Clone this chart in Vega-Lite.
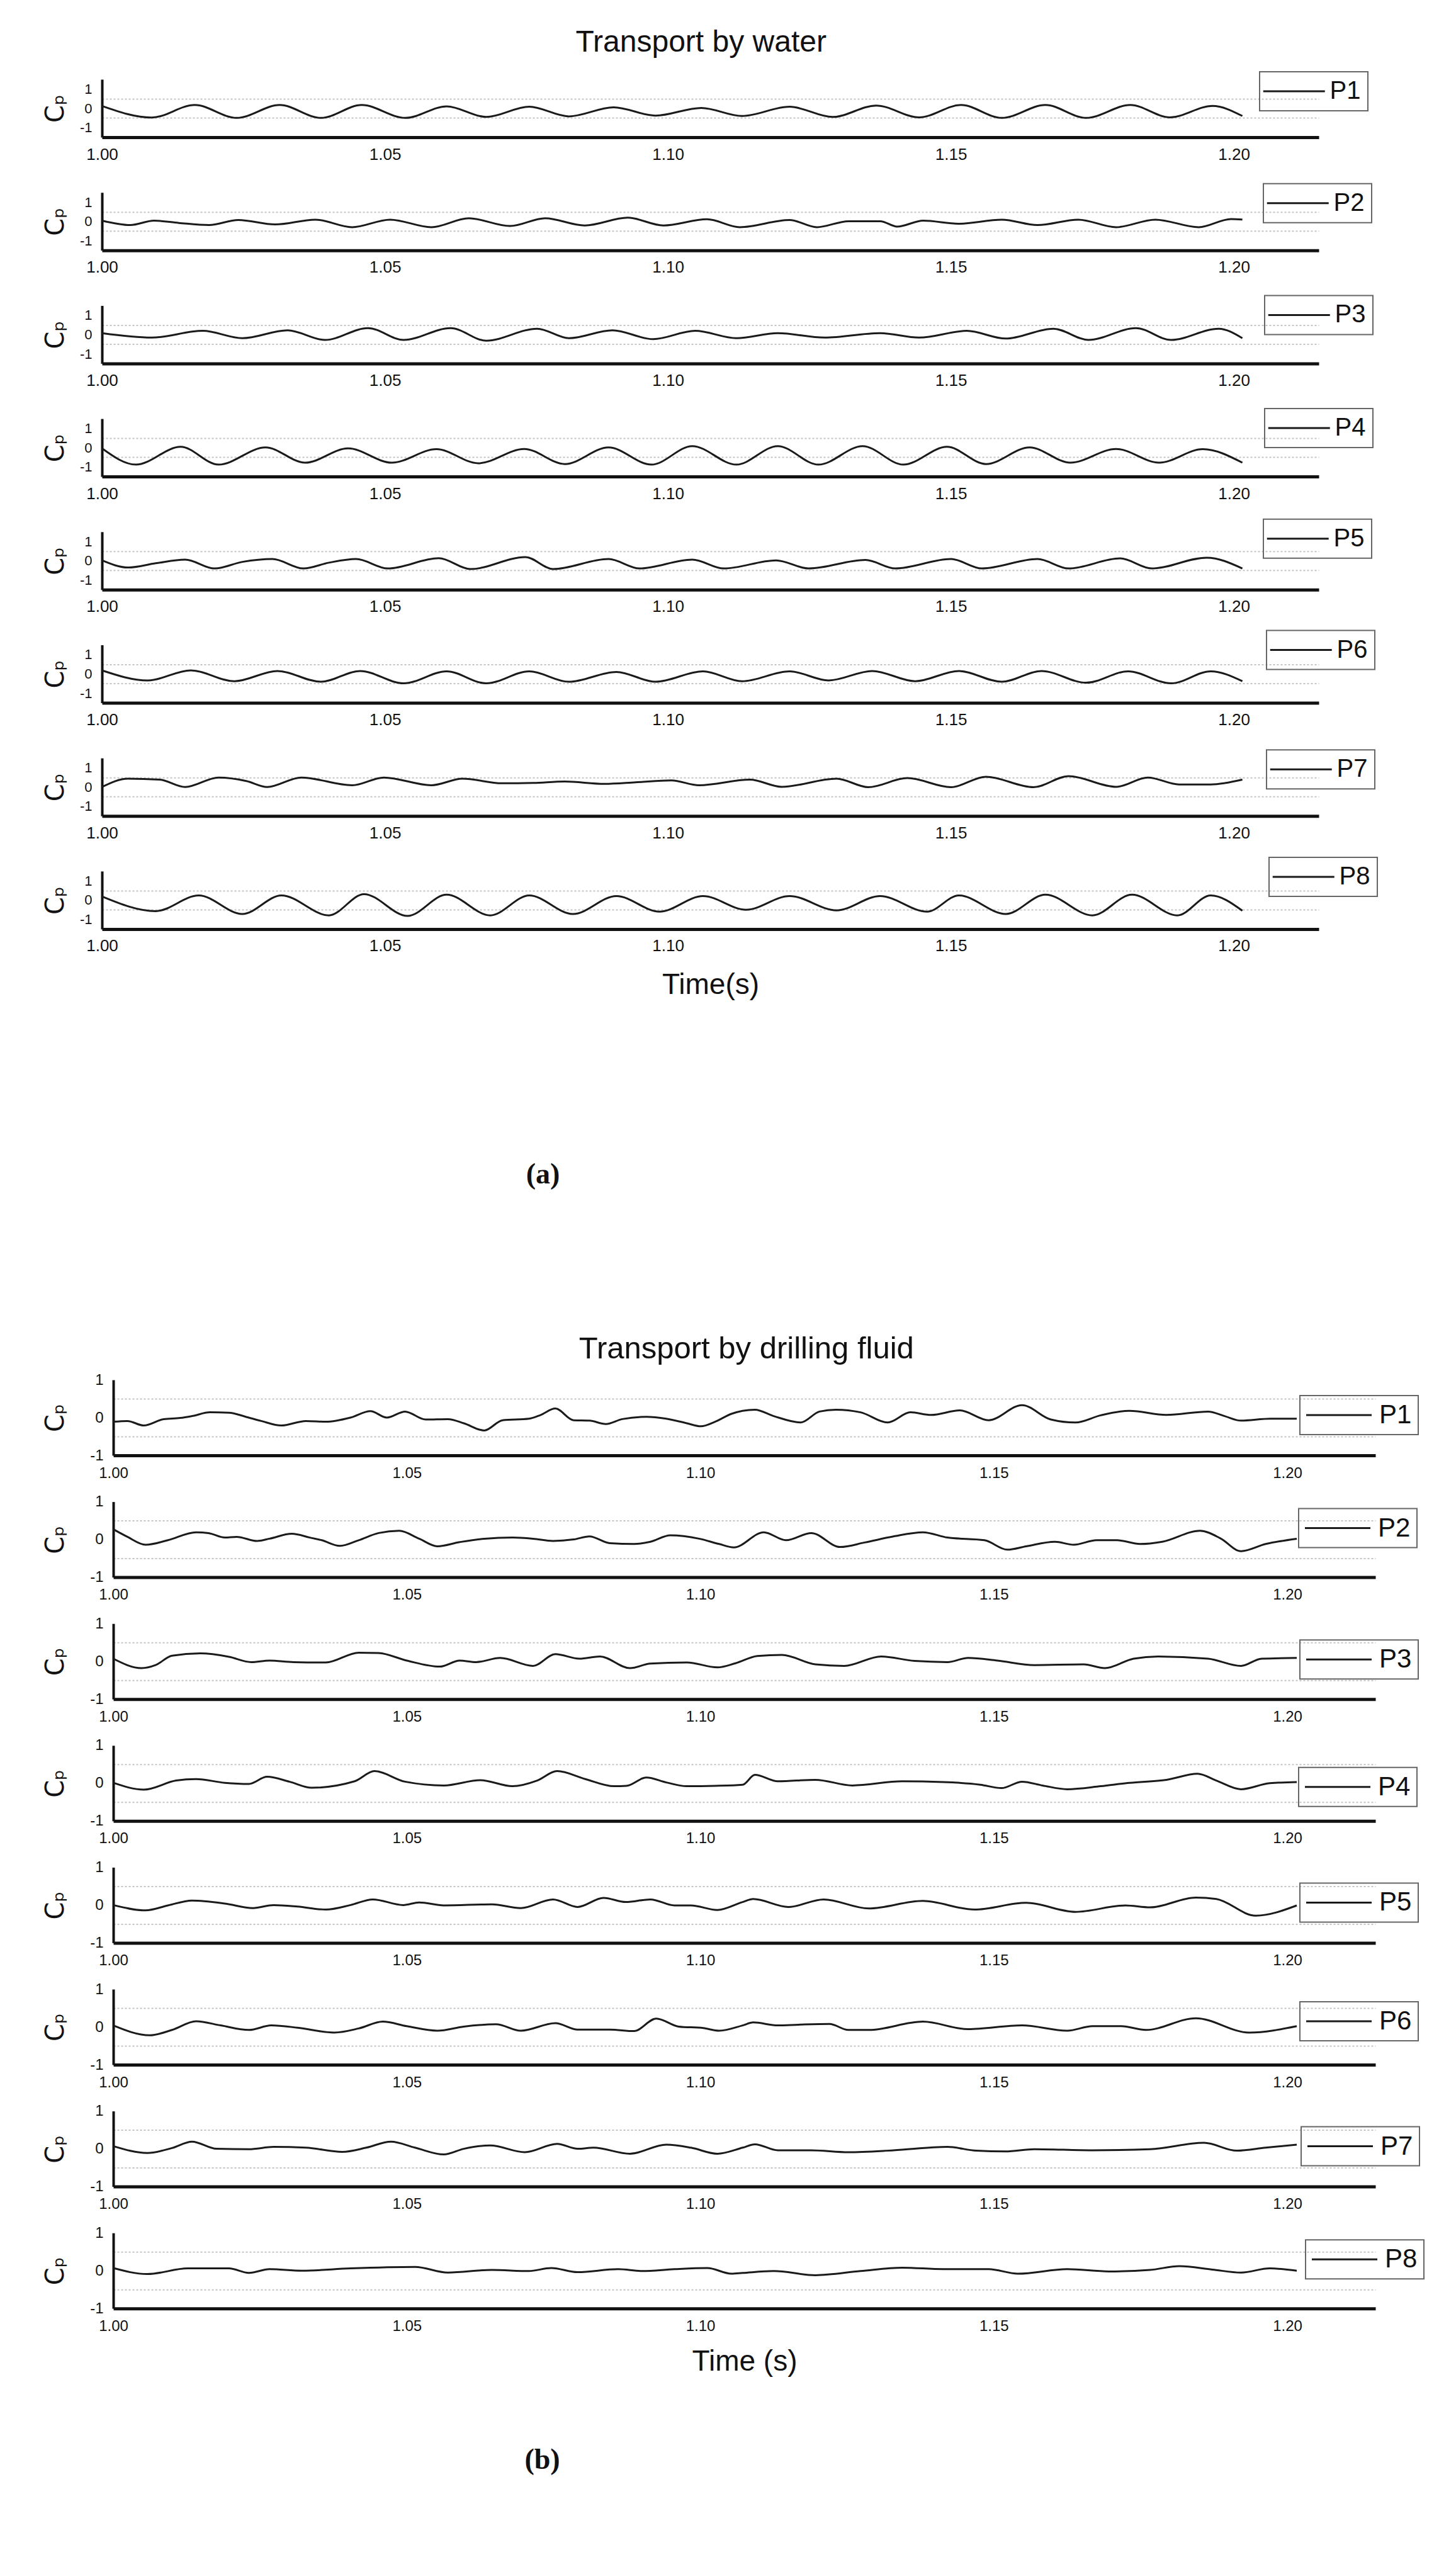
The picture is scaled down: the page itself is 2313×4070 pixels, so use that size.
{
"$schema":"https://vega.github.io/schema/vega-lite/v6.json",
"background":"white",
"padding":{"left":67,"top":44,"right":53,"bottom":120},
"config":{"view":{"stroke":null},"font":"Liberation Sans",
"axis":{"ticks":false,"tickSize":0,"grid":false,"domainColor":"#111","labelColor":"#111","titleColor":"#111","labelFont":"Liberation Sans","titleFont":"Liberation Sans","titleFontWeight":"normal"},
"legend":{"title":null,"symbolType":"M-1,0H7","symbolStrokeWidth":3,"strokeColor":"#666","strokeWidth":2,"labelFont":"Liberation Sans","labelColor":"#111"},
"title":{"font":"Liberation Sans","fontWeight":"normal","color":"#111","anchor":"middle"}},
"datasets":{
"a":[
{"p":"P1","t":1.0,"v":0.12},{"p":"P1","t":1.0088,"v":-0.48},{"p":"P1","t":1.0164,"v":0.17},{"p":"P1","t":1.0238,"v":-0.5},{"p":"P1","t":1.0314,"v":0.17},{"p":"P1","t":1.0387,"v":-0.5},{"p":"P1","t":1.0459,"v":0.17},{"p":"P1","t":1.0536,"v":-0.5},{"p":"P1","t":1.0609,"v":0.1},{"p":"P1","t":1.0679,"v":-0.45},{"p":"P1","t":1.0755,"v":0.08},{"p":"P1","t":1.0825,"v":-0.42},{"p":"P1","t":1.0904,"v":0.05},{"p":"P1","t":1.0978,"v":-0.38},{"p":"P1","t":1.1059,"v":0.02},{"p":"P1","t":1.1131,"v":-0.4},{"p":"P1","t":1.1215,"v":0.08},{"p":"P1","t":1.1291,"v":-0.45},{"p":"P1","t":1.1368,"v":0.14},{"p":"P1","t":1.1444,"v":-0.47},{"p":"P1","t":1.1518,"v":0.17},{"p":"P1","t":1.159,"v":-0.5},{"p":"P1","t":1.1667,"v":0.17},{"p":"P1","t":1.1739,"v":-0.5},{"p":"P1","t":1.1817,"v":0.17},{"p":"P1","t":1.1887,"v":-0.47},{"p":"P1","t":1.1962,"v":0.12},{"p":"P1","t":1.2015,"v":-0.4},
{"p":"P2","t":1.0,"v":0.04},{"p":"P2","t":1.005,"v":-0.19},{"p":"P2","t":1.0092,"v":0.04},{"p":"P2","t":1.0136,"v":-0.08},{"p":"P2","t":1.0189,"v":-0.19},{"p":"P2","t":1.0241,"v":0.07},{"p":"P2","t":1.0306,"v":-0.16},{"p":"P2","t":1.0377,"v":0.09},{"p":"P2","t":1.0442,"v":-0.3},{"p":"P2","t":1.0509,"v":0.09},{"p":"P2","t":1.0582,"v":-0.3},{"p":"P2","t":1.0648,"v":0.16},{"p":"P2","t":1.0721,"v":-0.24},{"p":"P2","t":1.0783,"v":0.16},{"p":"P2","t":1.0853,"v":-0.21},{"p":"P2","t":1.0929,"v":0.19},{"p":"P2","t":1.0992,"v":-0.21},{"p":"P2","t":1.1069,"v":0.11},{"p":"P2","t":1.1127,"v":-0.3},{"p":"P2","t":1.1215,"v":0.07},{"p":"P2","t":1.1263,"v":-0.3},{"p":"P2","t":1.1319,"v":0.01},{"p":"P2","t":1.1375,"v":0.01},{"p":"P2","t":1.1405,"v":-0.27},{"p":"P2","t":1.1451,"v":0.04},{"p":"P2","t":1.1514,"v":-0.12},{"p":"P2","t":1.159,"v":0.09},{"p":"P2","t":1.1653,"v":-0.19},{"p":"P2","t":1.1725,"v":0.09},{"p":"P2","t":1.1792,"v":-0.3},{"p":"P2","t":1.1861,"v":0.09},{"p":"P2","t":1.1938,"v":-0.3},{"p":"P2","t":1.1995,"v":0.12},{"p":"P2","t":1.2015,"v":0.1},
{"p":"P3","t":1.0,"v":0.07},{"p":"P3","t":1.0088,"v":-0.16},{"p":"P3","t":1.0178,"v":0.19},{"p":"P3","t":1.0248,"v":-0.19},{"p":"P3","t":1.0328,"v":0.22},{"p":"P3","t":1.0394,"v":-0.28},{"p":"P3","t":1.047,"v":0.33},{"p":"P3","t":1.0533,"v":-0.28},{"p":"P3","t":1.0616,"v":0.33},{"p":"P3","t":1.0679,"v":-0.32},{"p":"P3","t":1.0769,"v":0.3},{"p":"P3","t":1.0825,"v":-0.19},{"p":"P3","t":1.0902,"v":0.22},{"p":"P3","t":1.0974,"v":-0.24},{"p":"P3","t":1.1048,"v":0.19},{"p":"P3","t":1.1121,"v":-0.19},{"p":"P3","t":1.1194,"v":0.07},{"p":"P3","t":1.1277,"v":-0.16},{"p":"P3","t":1.1375,"v":0.07},{"p":"P3","t":1.1444,"v":-0.16},{"p":"P3","t":1.1528,"v":0.19},{"p":"P3","t":1.1597,"v":-0.21},{"p":"P3","t":1.1681,"v":0.3},{"p":"P3","t":1.1743,"v":-0.28},{"p":"P3","t":1.1827,"v":0.33},{"p":"P3","t":1.1889,"v":-0.28},{"p":"P3","t":1.1973,"v":0.3},{"p":"P3","t":1.2015,"v":-0.19},
{"p":"P4","t":1.0,"v":-0.04},{"p":"P4","t":1.006,"v":-0.88},{"p":"P4","t":1.0139,"v":0.04},{"p":"P4","t":1.0206,"v":-0.88},{"p":"P4","t":1.0289,"v":0.01},{"p":"P4","t":1.0359,"v":-0.78},{"p":"P4","t":1.0435,"v":-0.04},{"p":"P4","t":1.0512,"v":-0.78},{"p":"P4","t":1.0591,"v":-0.08},{"p":"P4","t":1.0665,"v":-0.81},{"p":"P4","t":1.0746,"v":-0.07},{"p":"P4","t":1.0818,"v":-0.85},{"p":"P4","t":1.0895,"v":0.01},{"p":"P4","t":1.0971,"v":-0.88},{"p":"P4","t":1.1043,"v":0.08},{"p":"P4","t":1.1121,"v":-0.88},{"p":"P4","t":1.1194,"v":0.08},{"p":"P4","t":1.1266,"v":-0.88},{"p":"P4","t":1.1344,"v":0.08},{"p":"P4","t":1.1416,"v":-0.88},{"p":"P4","t":1.1493,"v":0.04},{"p":"P4","t":1.1562,"v":-0.85},{"p":"P4","t":1.1639,"v":0.01},{"p":"P4","t":1.1711,"v":-0.78},{"p":"P4","t":1.1792,"v":-0.07},{"p":"P4","t":1.1868,"v":-0.78},{"p":"P4","t":1.1945,"v":-0.08},{"p":"P4","t":1.2015,"v":-0.78},
{"p":"P5","t":1.0,"v":0.02},{"p":"P5","t":1.0046,"v":-0.35},{"p":"P5","t":1.0095,"v":-0.13},{"p":"P5","t":1.0147,"v":0.06},{"p":"P5","t":1.0199,"v":-0.4},{"p":"P5","t":1.0248,"v":-0.06},{"p":"P5","t":1.0301,"v":0.09},{"p":"P5","t":1.0356,"v":-0.4},{"p":"P5","t":1.0401,"v":-0.1},{"p":"P5","t":1.0449,"v":0.09},{"p":"P5","t":1.0505,"v":-0.4},{"p":"P5","t":1.0595,"v":0.13},{"p":"P5","t":1.0651,"v":-0.43},{"p":"P5","t":1.0748,"v":0.19},{"p":"P5","t":1.0797,"v":-0.43},{"p":"P5","t":1.0895,"v":0.09},{"p":"P5","t":1.095,"v":-0.4},{"p":"P5","t":1.1043,"v":0.06},{"p":"P5","t":1.1099,"v":-0.4},{"p":"P5","t":1.1191,"v":0.02},{"p":"P5","t":1.1249,"v":-0.4},{"p":"P5","t":1.1349,"v":0.04},{"p":"P5","t":1.1402,"v":-0.4},{"p":"P5","t":1.15,"v":0.09},{"p":"P5","t":1.1555,"v":-0.4},{"p":"P5","t":1.1653,"v":0.09},{"p":"P5","t":1.1708,"v":-0.4},{"p":"P5","t":1.1799,"v":0.12},{"p":"P5","t":1.1855,"v":-0.4},{"p":"P5","t":1.1952,"v":0.16},{"p":"P5","t":1.2015,"v":-0.4},
{"p":"P6","t":1.0,"v":0.18},{"p":"P6","t":1.0081,"v":-0.34},{"p":"P6","t":1.0157,"v":0.18},{"p":"P6","t":1.0234,"v":-0.38},{"p":"P6","t":1.031,"v":0.15},{"p":"P6","t":1.0387,"v":-0.41},{"p":"P6","t":1.0456,"v":0.15},{"p":"P6","t":1.0533,"v":-0.49},{"p":"P6","t":1.0609,"v":0.13},{"p":"P6","t":1.0679,"v":-0.49},{"p":"P6","t":1.0755,"v":0.13},{"p":"P6","t":1.0825,"v":-0.41},{"p":"P6","t":1.0909,"v":0.1},{"p":"P6","t":1.0978,"v":-0.41},{"p":"P6","t":1.1062,"v":0.13},{"p":"P6","t":1.1131,"v":-0.38},{"p":"P6","t":1.1215,"v":0.13},{"p":"P6","t":1.1284,"v":-0.34},{"p":"P6","t":1.1361,"v":0.15},{"p":"P6","t":1.1437,"v":-0.38},{"p":"P6","t":1.1514,"v":0.15},{"p":"P6","t":1.159,"v":-0.41},{"p":"P6","t":1.166,"v":0.15},{"p":"P6","t":1.1739,"v":-0.46},{"p":"P6","t":1.1813,"v":0.13},{"p":"P6","t":1.1889,"v":-0.49},{"p":"P6","t":1.1959,"v":0.13},{"p":"P6","t":1.2015,"v":-0.38},
{"p":"P7","t":1.0,"v":0.0},{"p":"P7","t":1.0046,"v":0.43},{"p":"P7","t":1.0102,"v":0.38},{"p":"P7","t":1.0147,"v":0.0},{"p":"P7","t":1.0206,"v":0.49},{"p":"P7","t":1.0255,"v":0.31},{"p":"P7","t":1.0292,"v":0.0},{"p":"P7","t":1.0352,"v":0.49},{"p":"P7","t":1.0442,"v":0.09},{"p":"P7","t":1.0498,"v":0.49},{"p":"P7","t":1.0582,"v":0.09},{"p":"P7","t":1.0637,"v":0.43},{"p":"P7","t":1.0707,"v":0.19},{"p":"P7","t":1.0762,"v":0.21},{"p":"P7","t":1.0818,"v":0.28},{"p":"P7","t":1.0888,"v":0.16},{"p":"P7","t":1.0943,"v":0.24},{"p":"P7","t":1.1006,"v":0.34},{"p":"P7","t":1.1055,"v":0.09},{"p":"P7","t":1.1145,"v":0.38},{"p":"P7","t":1.1201,"v":0.01},{"p":"P7","t":1.1298,"v":0.43},{"p":"P7","t":1.1354,"v":-0.01},{"p":"P7","t":1.1423,"v":0.46},{"p":"P7","t":1.15,"v":-0.01},{"p":"P7","t":1.1562,"v":0.53},{"p":"P7","t":1.1646,"v":-0.01},{"p":"P7","t":1.1708,"v":0.56},{"p":"P7","t":1.1792,"v":0.01},{"p":"P7","t":1.1848,"v":0.49},{"p":"P7","t":1.1903,"v":0.13},{"p":"P7","t":1.1959,"v":0.13},{"p":"P7","t":1.2015,"v":0.38},
{"p":"P8","t":1.0,"v":0.19},{"p":"P8","t":1.0095,"v":-0.57},{"p":"P8","t":1.0171,"v":0.24},{"p":"P8","t":1.0248,"v":-0.72},{"p":"P8","t":1.0317,"v":0.24},{"p":"P8","t":1.0401,"v":-0.79},{"p":"P8","t":1.0463,"v":0.31},{"p":"P8","t":1.054,"v":-0.82},{"p":"P8","t":1.0609,"v":0.28},{"p":"P8","t":1.0686,"v":-0.79},{"p":"P8","t":1.0755,"v":0.24},{"p":"P8","t":1.0832,"v":-0.72},{"p":"P8","t":1.0909,"v":0.21},{"p":"P8","t":1.0985,"v":-0.6},{"p":"P8","t":1.1062,"v":0.21},{"p":"P8","t":1.1138,"v":-0.5},{"p":"P8","t":1.1215,"v":0.21},{"p":"P8","t":1.1298,"v":-0.53},{"p":"P8","t":1.1375,"v":0.21},{"p":"P8","t":1.1458,"v":-0.6},{"p":"P8","t":1.1514,"v":0.24},{"p":"P8","t":1.1597,"v":-0.72},{"p":"P8","t":1.1667,"v":0.28},{"p":"P8","t":1.175,"v":-0.79},{"p":"P8","t":1.182,"v":0.28},{"p":"P8","t":1.19,"v":-0.79},{"p":"P8","t":1.1959,"v":0.24},{"p":"P8","t":1.2015,"v":-0.55}
],
"b":[
{"p":"P1","t":1.0,"v":-0.11},{"p":"P1","t":1.0024,"v":-0.09},{"p":"P1","t":1.0052,"v":-0.21},{"p":"P1","t":1.0086,"v":-0.04},{"p":"P1","t":1.0114,"v":-0.01},{"p":"P1","t":1.0134,"v":0.04},{"p":"P1","t":1.0165,"v":0.14},{"p":"P1","t":1.0197,"v":0.13},{"p":"P1","t":1.0224,"v":0.03},{"p":"P1","t":1.0252,"v":-0.09},{"p":"P1","t":1.0286,"v":-0.21},{"p":"P1","t":1.0328,"v":-0.09},{"p":"P1","t":1.0362,"v":-0.11},{"p":"P1","t":1.0404,"v":0.0},{"p":"P1","t":1.0438,"v":0.17},{"p":"P1","t":1.0466,"v":0.0},{"p":"P1","t":1.0497,"v":0.16},{"p":"P1","t":1.0532,"v":-0.05},{"p":"P1","t":1.057,"v":-0.04},{"p":"P1","t":1.0597,"v":-0.15},{"p":"P1","t":1.0632,"v":-0.34},{"p":"P1","t":1.0663,"v":-0.07},{"p":"P1","t":1.0708,"v":-0.03},{"p":"P1","t":1.0728,"v":0.07},{"p":"P1","t":1.0753,"v":0.24},{"p":"P1","t":1.0784,"v":-0.07},{"p":"P1","t":1.0811,"v":-0.08},{"p":"P1","t":1.0839,"v":-0.17},{"p":"P1","t":1.0867,"v":-0.04},{"p":"P1","t":1.0908,"v":0.02},{"p":"P1","t":1.0942,"v":-0.03},{"p":"P1","t":1.0977,"v":-0.15},{"p":"P1","t":1.1001,"v":-0.23},{"p":"P1","t":1.1025,"v":-0.11},{"p":"P1","t":1.1053,"v":0.1},{"p":"P1","t":1.1072,"v":0.18},{"p":"P1","t":1.1093,"v":0.21},{"p":"P1","t":1.1125,"v":0.04},{"p":"P1","t":1.1171,"v":-0.13},{"p":"P1","t":1.1203,"v":0.16},{"p":"P1","t":1.1231,"v":0.21},{"p":"P1","t":1.1273,"v":0.14},{"p":"P1","t":1.1319,"v":-0.13},{"p":"P1","t":1.1358,"v":0.14},{"p":"P1","t":1.1393,"v":0.07},{"p":"P1","t":1.1442,"v":0.19},{"p":"P1","t":1.1491,"v":-0.07},{"p":"P1","t":1.1548,"v":0.33},{"p":"P1","t":1.1597,"v":-0.05},{"p":"P1","t":1.1639,"v":-0.13},{"p":"P1","t":1.1682,"v":0.06},{"p":"P1","t":1.1731,"v":0.18},{"p":"P1","t":1.1794,"v":0.07},{"p":"P1","t":1.1865,"v":0.16},{"p":"P1","t":1.1893,"v":0.04},{"p":"P1","t":1.1921,"v":-0.08},{"p":"P1","t":1.1971,"v":-0.03},{"p":"P1","t":1.2016,"v":-0.03},
{"p":"P2","t":1.0,"v":0.27},{"p":"P2","t":1.0024,"v":0.07},{"p":"P2","t":1.0055,"v":-0.14},{"p":"P2","t":1.0093,"v":-0.02},{"p":"P2","t":1.0141,"v":0.19},{"p":"P2","t":1.0162,"v":0.17},{"p":"P2","t":1.019,"v":0.05},{"p":"P2","t":1.021,"v":0.07},{"p":"P2","t":1.0245,"v":-0.04},{"p":"P2","t":1.0266,"v":0.02},{"p":"P2","t":1.0304,"v":0.15},{"p":"P2","t":1.0335,"v":0.05},{"p":"P2","t":1.0355,"v":-0.02},{"p":"P2","t":1.0386,"v":-0.17},{"p":"P2","t":1.0418,"v":-0.02},{"p":"P2","t":1.0452,"v":0.17},{"p":"P2","t":1.0487,"v":0.23},{"p":"P2","t":1.0521,"v":0.02},{"p":"P2","t":1.0552,"v":-0.18},{"p":"P2","t":1.059,"v":-0.07},{"p":"P2","t":1.0632,"v":0.02},{"p":"P2","t":1.068,"v":0.05},{"p":"P2","t":1.0715,"v":0.02},{"p":"P2","t":1.0749,"v":-0.04},{"p":"P2","t":1.0784,"v":0.0},{"p":"P2","t":1.0811,"v":0.08},{"p":"P2","t":1.0846,"v":-0.1},{"p":"P2","t":1.0887,"v":-0.12},{"p":"P2","t":1.0915,"v":-0.06},{"p":"P2","t":1.0949,"v":0.11},{"p":"P2","t":1.0998,"v":0.02},{"p":"P2","t":1.1032,"v":-0.12},{"p":"P2","t":1.1057,"v":-0.21},{"p":"P2","t":1.1108,"v":0.19},{"p":"P2","t":1.1146,"v":-0.02},{"p":"P2","t":1.1189,"v":0.17},{"p":"P2","t":1.1238,"v":-0.2},{"p":"P2","t":1.128,"v":-0.08},{"p":"P2","t":1.1329,"v":0.08},{"p":"P2","t":1.1379,"v":0.19},{"p":"P2","t":1.1421,"v":0.05},{"p":"P2","t":1.1484,"v":-0.02},{"p":"P2","t":1.1523,"v":-0.27},{"p":"P2","t":1.1555,"v":-0.18},{"p":"P2","t":1.1604,"v":-0.06},{"p":"P2","t":1.1636,"v":-0.14},{"p":"P2","t":1.1675,"v":-0.02},{"p":"P2","t":1.171,"v":-0.02},{"p":"P2","t":1.1749,"v":-0.12},{"p":"P2","t":1.1787,"v":-0.06},{"p":"P2","t":1.1851,"v":0.23},{"p":"P2","t":1.1886,"v":0.03},{"p":"P2","t":1.1921,"v":-0.31},{"p":"P2","t":1.1963,"v":-0.12},{"p":"P2","t":1.2016,"v":0.02},
{"p":"P3","t":1.0,"v":0.07},{"p":"P3","t":1.0048,"v":-0.18},{"p":"P3","t":1.0072,"v":-0.1},{"p":"P3","t":1.01,"v":0.15},{"p":"P3","t":1.0148,"v":0.21},{"p":"P3","t":1.0197,"v":0.12},{"p":"P3","t":1.0235,"v":-0.02},{"p":"P3","t":1.0266,"v":0.02},{"p":"P3","t":1.0307,"v":-0.02},{"p":"P3","t":1.0362,"v":-0.03},{"p":"P3","t":1.0418,"v":0.23},{"p":"P3","t":1.0452,"v":0.22},{"p":"P3","t":1.05,"v":0.02},{"p":"P3","t":1.0556,"v":-0.14},{"p":"P3","t":1.059,"v":0.02},{"p":"P3","t":1.0618,"v":-0.02},{"p":"P3","t":1.0659,"v":0.09},{"p":"P3","t":1.0715,"v":-0.12},{"p":"P3","t":1.0753,"v":0.19},{"p":"P3","t":1.0794,"v":0.07},{"p":"P3","t":1.0829,"v":0.13},{"p":"P3","t":1.088,"v":-0.18},{"p":"P3","t":1.0915,"v":-0.06},{"p":"P3","t":1.0977,"v":-0.03},{"p":"P3","t":1.1029,"v":-0.16},{"p":"P3","t":1.106,"v":-0.05},{"p":"P3","t":1.1097,"v":0.14},{"p":"P3","t":1.1139,"v":0.17},{"p":"P3","t":1.1196,"v":-0.08},{"p":"P3","t":1.1245,"v":-0.12},{"p":"P3","t":1.1308,"v":0.13},{"p":"P3","t":1.1365,"v":0.01},{"p":"P3","t":1.1421,"v":-0.02},{"p":"P3","t":1.1456,"v":0.09},{"p":"P3","t":1.1506,"v":0.02},{"p":"P3","t":1.1569,"v":-0.1},{"p":"P3","t":1.1653,"v":-0.08},{"p":"P3","t":1.1689,"v":-0.18},{"p":"P3","t":1.1738,"v":0.07},{"p":"P3","t":1.178,"v":0.13},{"p":"P3","t":1.1865,"v":0.07},{"p":"P3","t":1.1921,"v":-0.12},{"p":"P3","t":1.1956,"v":0.07},{"p":"P3","t":1.2016,"v":0.09},
{"p":"P4","t":1.0,"v":0.01},{"p":"P4","t":1.0052,"v":-0.17},{"p":"P4","t":1.0107,"v":0.07},{"p":"P4","t":1.0141,"v":0.11},{"p":"P4","t":1.019,"v":0.01},{"p":"P4","t":1.0231,"v":-0.02},{"p":"P4","t":1.0262,"v":0.17},{"p":"P4","t":1.03,"v":0.04},{"p":"P4","t":1.0338,"v":-0.12},{"p":"P4","t":1.0411,"v":0.05},{"p":"P4","t":1.0445,"v":0.32},{"p":"P4","t":1.0497,"v":0.04},{"p":"P4","t":1.0563,"v":-0.06},{"p":"P4","t":1.0625,"v":0.08},{"p":"P4","t":1.068,"v":-0.08},{"p":"P4","t":1.0722,"v":0.07},{"p":"P4","t":1.0756,"v":0.32},{"p":"P4","t":1.0804,"v":0.11},{"p":"P4","t":1.0853,"v":-0.08},{"p":"P4","t":1.0874,"v":-0.07},{"p":"P4","t":1.0908,"v":0.15},{"p":"P4","t":1.0942,"v":0.02},{"p":"P4","t":1.0977,"v":-0.08},{"p":"P4","t":1.1025,"v":-0.07},{"p":"P4","t":1.1072,"v":-0.04},{"p":"P4","t":1.1093,"v":0.22},{"p":"P4","t":1.1132,"v":0.05},{"p":"P4","t":1.1196,"v":0.09},{"p":"P4","t":1.1259,"v":-0.06},{"p":"P4","t":1.1344,"v":0.05},{"p":"P4","t":1.1414,"v":0.03},{"p":"P4","t":1.1477,"v":-0.04},{"p":"P4","t":1.1513,"v":-0.13},{"p":"P4","t":1.1548,"v":0.04},{"p":"P4","t":1.1583,"v":-0.06},{"p":"P4","t":1.1625,"v":-0.16},{"p":"P4","t":1.1682,"v":-0.08},{"p":"P4","t":1.1731,"v":0.01},{"p":"P4","t":1.1794,"v":0.09},{"p":"P4","t":1.1847,"v":0.25},{"p":"P4","t":1.1879,"v":0.07},{"p":"P4","t":1.1921,"v":-0.16},{"p":"P4","t":1.197,"v":0.0},{"p":"P4","t":1.2016,"v":0.03},
{"p":"P5","t":1.0,"v":0.0},{"p":"P5","t":1.0055,"v":-0.14},{"p":"P5","t":1.0093,"v":-0.01},{"p":"P5","t":1.0134,"v":0.12},{"p":"P5","t":1.019,"v":0.04},{"p":"P5","t":1.0238,"v":-0.08},{"p":"P5","t":1.0273,"v":0.0},{"p":"P5","t":1.0314,"v":-0.04},{"p":"P5","t":1.0362,"v":-0.12},{"p":"P5","t":1.0404,"v":0.0},{"p":"P5","t":1.0442,"v":0.15},{"p":"P5","t":1.0494,"v":0.0},{"p":"P5","t":1.0521,"v":0.07},{"p":"P5","t":1.0563,"v":-0.01},{"p":"P5","t":1.0645,"v":0.02},{"p":"P5","t":1.0694,"v":-0.08},{"p":"P5","t":1.0749,"v":0.15},{"p":"P5","t":1.0791,"v":-0.05},{"p":"P5","t":1.0835,"v":0.19},{"p":"P5","t":1.0873,"v":0.08},{"p":"P5","t":1.0915,"v":0.15},{"p":"P5","t":1.0956,"v":-0.01},{"p":"P5","t":1.0984,"v":-0.01},{"p":"P5","t":1.1029,"v":-0.13},{"p":"P5","t":1.1072,"v":0.08},{"p":"P5","t":1.109,"v":0.16},{"p":"P5","t":1.115,"v":-0.05},{"p":"P5","t":1.121,"v":0.15},{"p":"P5","t":1.1287,"v":-0.09},{"p":"P5","t":1.1379,"v":0.11},{"p":"P5","t":1.1467,"v":-0.12},{"p":"P5","t":1.1555,"v":0.06},{"p":"P5","t":1.1639,"v":-0.18},{"p":"P5","t":1.1724,"v":-0.01},{"p":"P5","t":1.1766,"v":-0.06},{"p":"P5","t":1.1844,"v":0.2},{"p":"P5","t":1.1879,"v":0.16},{"p":"P5","t":1.1946,"v":-0.28},{"p":"P5","t":1.2016,"v":-0.01},
{"p":"P6","t":1.0,"v":0.04},{"p":"P6","t":1.0062,"v":-0.22},{"p":"P6","t":1.01,"v":-0.08},{"p":"P6","t":1.0141,"v":0.15},{"p":"P6","t":1.0183,"v":0.04},{"p":"P6","t":1.0231,"v":-0.08},{"p":"P6","t":1.0269,"v":0.04},{"p":"P6","t":1.0314,"v":-0.02},{"p":"P6","t":1.0376,"v":-0.15},{"p":"P6","t":1.0418,"v":-0.04},{"p":"P6","t":1.0459,"v":0.14},{"p":"P6","t":1.05,"v":0.02},{"p":"P6","t":1.0552,"v":-0.1},{"p":"P6","t":1.0597,"v":0.01},{"p":"P6","t":1.0652,"v":0.07},{"p":"P6","t":1.0694,"v":-0.1},{"p":"P6","t":1.0753,"v":0.1},{"p":"P6","t":1.0791,"v":-0.07},{"p":"P6","t":1.0846,"v":-0.07},{"p":"P6","t":1.0887,"v":-0.11},{"p":"P6","t":1.0925,"v":0.22},{"p":"P6","t":1.0963,"v":0.01},{"p":"P6","t":1.1005,"v":-0.03},{"p":"P6","t":1.1032,"v":-0.1},{"p":"P6","t":1.1072,"v":0.04},{"p":"P6","t":1.109,"v":0.12},{"p":"P6","t":1.1132,"v":0.04},{"p":"P6","t":1.1167,"v":0.06},{"p":"P6","t":1.122,"v":0.08},{"p":"P6","t":1.1252,"v":-0.08},{"p":"P6","t":1.1287,"v":-0.08},{"p":"P6","t":1.1379,"v":0.14},{"p":"P6","t":1.1456,"v":-0.06},{"p":"P6","t":1.1548,"v":0.04},{"p":"P6","t":1.1625,"v":-0.1},{"p":"P6","t":1.1668,"v":0.02},{"p":"P6","t":1.1717,"v":0.02},{"p":"P6","t":1.1759,"v":-0.08},{"p":"P6","t":1.1844,"v":0.23},{"p":"P6","t":1.1935,"v":-0.15},{"p":"P6","t":1.2016,"v":0.02},
{"p":"P7","t":1.0,"v":0.07},{"p":"P7","t":1.0058,"v":-0.11},{"p":"P7","t":1.01,"v":0.02},{"p":"P7","t":1.0134,"v":0.19},{"p":"P7","t":1.0176,"v":0.0},{"p":"P7","t":1.0231,"v":-0.01},{"p":"P7","t":1.0273,"v":0.05},{"p":"P7","t":1.0328,"v":0.03},{"p":"P7","t":1.039,"v":-0.08},{"p":"P7","t":1.0431,"v":0.03},{"p":"P7","t":1.0473,"v":0.19},{"p":"P7","t":1.0514,"v":0.03},{"p":"P7","t":1.0563,"v":-0.15},{"p":"P7","t":1.0597,"v":0.0},{"p":"P7","t":1.0642,"v":0.09},{"p":"P7","t":1.0701,"v":-0.09},{"p":"P7","t":1.0756,"v":0.13},{"p":"P7","t":1.0791,"v":0.0},{"p":"P7","t":1.0818,"v":0.03},{"p":"P7","t":1.088,"v":-0.13},{"p":"P7","t":1.0942,"v":0.11},{"p":"P7","t":1.0984,"v":0.03},{"p":"P7","t":1.1029,"v":-0.13},{"p":"P7","t":1.1072,"v":0.03},{"p":"P7","t":1.1093,"v":0.12},{"p":"P7","t":1.1132,"v":-0.04},{"p":"P7","t":1.1189,"v":-0.04},{"p":"P7","t":1.1252,"v":-0.09},{"p":"P7","t":1.1329,"v":-0.04},{"p":"P7","t":1.1421,"v":0.05},{"p":"P7","t":1.147,"v":-0.05},{"p":"P7","t":1.152,"v":-0.07},{"p":"P7","t":1.1569,"v":-0.01},{"p":"P7","t":1.1668,"v":-0.04},{"p":"P7","t":1.1766,"v":-0.01},{"p":"P7","t":1.1858,"v":0.16},{"p":"P7","t":1.1914,"v":-0.05},{"p":"P7","t":1.1963,"v":0.03},{"p":"P7","t":1.2016,"v":0.11},
{"p":"P8","t":1.0,"v":0.07},{"p":"P8","t":1.0058,"v":-0.09},{"p":"P8","t":1.0127,"v":0.06},{"p":"P8","t":1.0197,"v":0.06},{"p":"P8","t":1.0231,"v":-0.06},{"p":"P8","t":1.0266,"v":0.04},{"p":"P8","t":1.0321,"v":0.0},{"p":"P8","t":1.0404,"v":0.06},{"p":"P8","t":1.0514,"v":0.1},{"p":"P8","t":1.057,"v":-0.05},{"p":"P8","t":1.0645,"v":0.02},{"p":"P8","t":1.0708,"v":-0.01},{"p":"P8","t":1.0746,"v":0.07},{"p":"P8","t":1.0791,"v":-0.04},{"p":"P8","t":1.086,"v":0.04},{"p":"P8","t":1.0901,"v":-0.01},{"p":"P8","t":1.0956,"v":0.04},{"p":"P8","t":1.1012,"v":0.07},{"p":"P8","t":1.1053,"v":-0.08},{"p":"P8","t":1.1072,"v":-0.06},{"p":"P8","t":1.1125,"v":-0.01},{"p":"P8","t":1.1196,"v":-0.12},{"p":"P8","t":1.1273,"v":-0.01},{"p":"P8","t":1.1344,"v":0.08},{"p":"P8","t":1.1414,"v":0.04},{"p":"P8","t":1.1491,"v":0.04},{"p":"P8","t":1.1541,"v":-0.08},{"p":"P8","t":1.1625,"v":0.04},{"p":"P8","t":1.1696,"v":-0.02},{"p":"P8","t":1.1766,"v":0.02},{"p":"P8","t":1.1816,"v":0.12},{"p":"P8","t":1.1872,"v":0.03},{"p":"P8","t":1.1921,"v":-0.05},{"p":"P8","t":1.197,"v":0.06},{"p":"P8","t":1.2016,"v":0.0}
]},
"vconcat":[
{"hconcat":[
{"data":{"values":[]},"mark":"point","width":1,"height":1},
{"title":{"text":"Transport by water","fontSize":48,"offset":21,"dx":-15},
"bounds":"flush","spacing":87.7,
"resolve":{"scale":{"x":"independent","y":"independent","color":"independent"},"legend":{"color":"independent"}},
"vconcat":[
{"width":1933,"height":92,"data":{"name":"a"},"transform":[{"filter":"datum.p==='P1'"}],"mark":{"type":"line","interpolate":"monotone","strokeWidth":3},"encoding":{"x":{"field":"t","type":"quantitative","scale":{"domain":[1,1.215],"nice":false,"zero":false},"axis":{"values":[1,1.05,1.1,1.15,1.2],"format":".2f","labelFontSize":26,"labelPadding":14,"labelFlush":false,"domainWidth":5,"title":null}},"y":{"field":"v","type":"quantitative","scale":{"domain":[-1.5,1.5],"nice":false,"zero":false},"axis":{"values":[-1,-0.5,0,0.5,1],"labelExpr":"abs(datum.value)==0.5?'':toString(datum.value)","labelFontSize":22,"labelPadding":16,"labelOverlap":false,"domainWidth":4,"grid":true,"gridColor":"#c4c4c4","gridDash":[3,3],"gridWidth":2,"gridOpacity":{"condition":{"test":"abs(datum.value)==0.5","value":1},"value":0},"title":"Cₚ","titleFont":"DejaVu Sans","titleFontSize":40,"titlePadding":18}},"color":{"field":"p","type":"nominal","scale":{"range":["#1a1a1a"]},"legend":{"orient":"none","legendX":1839,"legendY":-12,"symbolSize":600,"symbolOffset":-13,"labelFontSize":40,"padding":11,"labelOffset":73.5}}}},
{"width":1933,"height":92,"data":{"name":"a"},"transform":[{"filter":"datum.p==='P2'"}],"mark":{"type":"line","interpolate":"monotone","strokeWidth":3},"encoding":{"x":{"field":"t","type":"quantitative","scale":{"domain":[1,1.215],"nice":false,"zero":false},"axis":{"values":[1,1.05,1.1,1.15,1.2],"format":".2f","labelFontSize":26,"labelPadding":14,"labelFlush":false,"domainWidth":5,"title":null}},"y":{"field":"v","type":"quantitative","scale":{"domain":[-1.5,1.5],"nice":false,"zero":false},"axis":{"values":[-1,-0.5,0,0.5,1],"labelExpr":"abs(datum.value)==0.5?'':toString(datum.value)","labelFontSize":22,"labelPadding":16,"labelOverlap":false,"domainWidth":4,"grid":true,"gridColor":"#c4c4c4","gridDash":[3,3],"gridWidth":2,"gridOpacity":{"condition":{"test":"abs(datum.value)==0.5","value":1},"value":0},"title":"Cₚ","titleFont":"DejaVu Sans","titleFontSize":40,"titlePadding":18}},"color":{"field":"p","type":"nominal","scale":{"range":["#1a1a1a"]},"legend":{"orient":"none","legendX":1845,"legendY":-14,"symbolSize":600,"symbolOffset":-13,"labelFontSize":40,"padding":11,"labelOffset":73.5}}}},
{"width":1933,"height":92,"data":{"name":"a"},"transform":[{"filter":"datum.p==='P3'"}],"mark":{"type":"line","interpolate":"monotone","strokeWidth":3},"encoding":{"x":{"field":"t","type":"quantitative","scale":{"domain":[1,1.215],"nice":false,"zero":false},"axis":{"values":[1,1.05,1.1,1.15,1.2],"format":".2f","labelFontSize":26,"labelPadding":14,"labelFlush":false,"domainWidth":5,"title":null}},"y":{"field":"v","type":"quantitative","scale":{"domain":[-1.5,1.5],"nice":false,"zero":false},"axis":{"values":[-1,-0.5,0,0.5,1],"labelExpr":"abs(datum.value)==0.5?'':toString(datum.value)","labelFontSize":22,"labelPadding":16,"labelOverlap":false,"domainWidth":4,"grid":true,"gridColor":"#c4c4c4","gridDash":[3,3],"gridWidth":2,"gridOpacity":{"condition":{"test":"abs(datum.value)==0.5","value":1},"value":0},"title":"Cₚ","titleFont":"DejaVu Sans","titleFontSize":40,"titlePadding":18}},"color":{"field":"p","type":"nominal","scale":{"range":["#1a1a1a"]},"legend":{"orient":"none","legendX":1847,"legendY":-16,"symbolSize":600,"symbolOffset":-13,"labelFontSize":40,"padding":11,"labelOffset":73.5}}}},
{"width":1933,"height":92,"data":{"name":"a"},"transform":[{"filter":"datum.p==='P4'"}],"mark":{"type":"line","interpolate":"monotone","strokeWidth":3},"encoding":{"x":{"field":"t","type":"quantitative","scale":{"domain":[1,1.215],"nice":false,"zero":false},"axis":{"values":[1,1.05,1.1,1.15,1.2],"format":".2f","labelFontSize":26,"labelPadding":14,"labelFlush":false,"domainWidth":5,"title":null}},"y":{"field":"v","type":"quantitative","scale":{"domain":[-1.5,1.5],"nice":false,"zero":false},"axis":{"values":[-1,-0.5,0,0.5,1],"labelExpr":"abs(datum.value)==0.5?'':toString(datum.value)","labelFontSize":22,"labelPadding":16,"labelOverlap":false,"domainWidth":4,"grid":true,"gridColor":"#c4c4c4","gridDash":[3,3],"gridWidth":2,"gridOpacity":{"condition":{"test":"abs(datum.value)==0.5","value":1},"value":0},"title":"Cₚ","titleFont":"DejaVu Sans","titleFontSize":40,"titlePadding":18}},"color":{"field":"p","type":"nominal","scale":{"range":["#1a1a1a"]},"legend":{"orient":"none","legendX":1847,"legendY":-16,"symbolSize":600,"symbolOffset":-13,"labelFontSize":40,"padding":11,"labelOffset":73.5}}}},
{"width":1933,"height":92,"data":{"name":"a"},"transform":[{"filter":"datum.p==='P5'"}],"mark":{"type":"line","interpolate":"monotone","strokeWidth":3},"encoding":{"x":{"field":"t","type":"quantitative","scale":{"domain":[1,1.215],"nice":false,"zero":false},"axis":{"values":[1,1.05,1.1,1.15,1.2],"format":".2f","labelFontSize":26,"labelPadding":14,"labelFlush":false,"domainWidth":5,"title":null}},"y":{"field":"v","type":"quantitative","scale":{"domain":[-1.5,1.5],"nice":false,"zero":false},"axis":{"values":[-1,-0.5,0,0.5,1],"labelExpr":"abs(datum.value)==0.5?'':toString(datum.value)","labelFontSize":22,"labelPadding":16,"labelOverlap":false,"domainWidth":4,"grid":true,"gridColor":"#c4c4c4","gridDash":[3,3],"gridWidth":2,"gridOpacity":{"condition":{"test":"abs(datum.value)==0.5","value":1},"value":0},"title":"Cₚ","titleFont":"DejaVu Sans","titleFontSize":40,"titlePadding":18}},"color":{"field":"p","type":"nominal","scale":{"range":["#1a1a1a"]},"legend":{"orient":"none","legendX":1845,"legendY":-20,"symbolSize":600,"symbolOffset":-13,"labelFontSize":40,"padding":11,"labelOffset":73.5}}}},
{"width":1933,"height":92,"data":{"name":"a"},"transform":[{"filter":"datum.p==='P6'"}],"mark":{"type":"line","interpolate":"monotone","strokeWidth":3},"encoding":{"x":{"field":"t","type":"quantitative","scale":{"domain":[1,1.215],"nice":false,"zero":false},"axis":{"values":[1,1.05,1.1,1.15,1.2],"format":".2f","labelFontSize":26,"labelPadding":14,"labelFlush":false,"domainWidth":5,"title":null}},"y":{"field":"v","type":"quantitative","scale":{"domain":[-1.5,1.5],"nice":false,"zero":false},"axis":{"values":[-1,-0.5,0,0.5,1],"labelExpr":"abs(datum.value)==0.5?'':toString(datum.value)","labelFontSize":22,"labelPadding":16,"labelOverlap":false,"domainWidth":4,"grid":true,"gridColor":"#c4c4c4","gridDash":[3,3],"gridWidth":2,"gridOpacity":{"condition":{"test":"abs(datum.value)==0.5","value":1},"value":0},"title":"Cₚ","titleFont":"DejaVu Sans","titleFontSize":40,"titlePadding":18}},"color":{"field":"p","type":"nominal","scale":{"range":["#1a1a1a"]},"legend":{"orient":"none","legendX":1850,"legendY":-23,"symbolSize":600,"symbolOffset":-13,"labelFontSize":40,"padding":11,"labelOffset":73.5}}}},
{"width":1933,"height":92,"data":{"name":"a"},"transform":[{"filter":"datum.p==='P7'"}],"mark":{"type":"line","interpolate":"monotone","strokeWidth":3},"encoding":{"x":{"field":"t","type":"quantitative","scale":{"domain":[1,1.215],"nice":false,"zero":false},"axis":{"values":[1,1.05,1.1,1.15,1.2],"format":".2f","labelFontSize":26,"labelPadding":14,"labelFlush":false,"domainWidth":5,"title":null}},"y":{"field":"v","type":"quantitative","scale":{"domain":[-1.5,1.5],"nice":false,"zero":false},"axis":{"values":[-1,-0.5,0,0.5,1],"labelExpr":"abs(datum.value)==0.5?'':toString(datum.value)","labelFontSize":22,"labelPadding":16,"labelOverlap":false,"domainWidth":4,"grid":true,"gridColor":"#c4c4c4","gridDash":[3,3],"gridWidth":2,"gridOpacity":{"condition":{"test":"abs(datum.value)==0.5","value":1},"value":0},"title":"Cₚ","titleFont":"DejaVu Sans","titleFontSize":40,"titlePadding":18}},"color":{"field":"p","type":"nominal","scale":{"range":["#1a1a1a"]},"legend":{"orient":"none","legendX":1850,"legendY":-13,"symbolSize":600,"symbolOffset":-13,"labelFontSize":40,"padding":11,"labelOffset":73.5}}}},
{"width":1933,"height":92,"data":{"name":"a"},"transform":[{"filter":"datum.p==='P8'"}],"title":{"text":"(a)","orient":"bottom","anchor":"middle","frame":"group","dx":-266,"offset":256,"font":"Liberation Serif","fontSize":46,"fontWeight":"bold"},"mark":{"type":"line","interpolate":"monotone","strokeWidth":3},"encoding":{"x":{"field":"t","type":"quantitative","scale":{"domain":[1,1.215],"nice":false,"zero":false},"axis":{"values":[1,1.05,1.1,1.15,1.2],"format":".2f","labelFontSize":26,"labelPadding":14,"labelFlush":false,"domainWidth":5,"title":"Time(s)","titleFontSize":46,"titlePadding":27}},"y":{"field":"v","type":"quantitative","scale":{"domain":[-1.5,1.5],"nice":false,"zero":false},"axis":{"values":[-1,-0.5,0,0.5,1],"labelExpr":"abs(datum.value)==0.5?'':toString(datum.value)","labelFontSize":22,"labelPadding":16,"labelOverlap":false,"domainWidth":4,"grid":true,"gridColor":"#c4c4c4","gridDash":[3,3],"gridWidth":2,"gridOpacity":{"condition":{"test":"abs(datum.value)==0.5","value":1},"value":0},"title":"Cₚ","titleFont":"DejaVu Sans","titleFontSize":40,"titlePadding":18}},"color":{"field":"p","type":"nominal","scale":{"range":["#1a1a1a"]},"legend":{"orient":"none","legendX":1854,"legendY":-22,"symbolSize":600,"symbolOffset":-13,"labelFontSize":40,"padding":11,"labelOffset":73.5}}}}
]}],"spacing":0,
"resolve":{"scale":{"x":"independent","y":"independent","color":"independent"},"legend":{"color":"independent"}}},
{"hconcat":[
{"data":{"values":[]},"mark":"point","width":1,"height":1},
{"title":{"text":"Transport by drilling fluid","fontSize":49,"offset":12,"dx":20},
"bounds":"flush","spacing":73.6,
"resolve":{"scale":{"x":"independent","y":"independent","color":"independent"},"legend":{"color":"independent"}},
"vconcat":[
{"width":2005,"height":120,"data":{"name":"b"},"transform":[{"filter":"datum.p==='P1'"}],"mark":{"type":"line","interpolate":"monotone","strokeWidth":3},"encoding":{"x":{"field":"t","type":"quantitative","scale":{"domain":[1,1.215],"nice":false,"zero":false},"axis":{"values":[1,1.05,1.1,1.15,1.2],"format":".2f","labelFontSize":24,"labelPadding":16,"labelFlush":false,"domainWidth":5,"title":null}},"y":{"field":"v","type":"quantitative","scale":{"domain":[-1,1],"nice":false,"zero":false},"axis":{"values":[-1,-0.5,0,0.5,1],"labelExpr":"abs(datum.value)==0.5?'':toString(datum.value)","labelFontSize":24,"labelPadding":16,"labelOverlap":false,"domainWidth":4,"grid":true,"gridColor":"#c4c4c4","gridDash":[3,3],"gridWidth":2,"gridOpacity":{"condition":{"test":"abs(datum.value)==0.5","value":1},"value":0},"title":"Cₚ","titleFont":"DejaVu Sans","titleFontSize":40,"titlePadding":34}},"color":{"field":"p","type":"nominal","scale":{"range":["#1a1a1a"]},"legend":{"orient":"none","legendX":1885,"legendY":25,"symbolSize":676,"symbolOffset":-8,"labelFontSize":42,"padding":10,"labelOffset":82}}}},
{"width":2005,"height":120,"data":{"name":"b"},"transform":[{"filter":"datum.p==='P2'"}],"mark":{"type":"line","interpolate":"monotone","strokeWidth":3},"encoding":{"x":{"field":"t","type":"quantitative","scale":{"domain":[1,1.215],"nice":false,"zero":false},"axis":{"values":[1,1.05,1.1,1.15,1.2],"format":".2f","labelFontSize":24,"labelPadding":16,"labelFlush":false,"domainWidth":5,"title":null}},"y":{"field":"v","type":"quantitative","scale":{"domain":[-1,1],"nice":false,"zero":false},"axis":{"values":[-1,-0.5,0,0.5,1],"labelExpr":"abs(datum.value)==0.5?'':toString(datum.value)","labelFontSize":24,"labelPadding":16,"labelOverlap":false,"domainWidth":4,"grid":true,"gridColor":"#c4c4c4","gridDash":[3,3],"gridWidth":2,"gridOpacity":{"condition":{"test":"abs(datum.value)==0.5","value":1},"value":0},"title":"Cₚ","titleFont":"DejaVu Sans","titleFontSize":40,"titlePadding":34}},"color":{"field":"p","type":"nominal","scale":{"range":["#1a1a1a"]},"legend":{"orient":"none","legendX":1883,"legendY":11,"symbolSize":676,"symbolOffset":-8,"labelFontSize":42,"padding":10,"labelOffset":82}}}},
{"width":2005,"height":120,"data":{"name":"b"},"transform":[{"filter":"datum.p==='P3'"}],"mark":{"type":"line","interpolate":"monotone","strokeWidth":3},"encoding":{"x":{"field":"t","type":"quantitative","scale":{"domain":[1,1.215],"nice":false,"zero":false},"axis":{"values":[1,1.05,1.1,1.15,1.2],"format":".2f","labelFontSize":24,"labelPadding":16,"labelFlush":false,"domainWidth":5,"title":null}},"y":{"field":"v","type":"quantitative","scale":{"domain":[-1,1],"nice":false,"zero":false},"axis":{"values":[-1,-0.5,0,0.5,1],"labelExpr":"abs(datum.value)==0.5?'':toString(datum.value)","labelFontSize":24,"labelPadding":16,"labelOverlap":false,"domainWidth":4,"grid":true,"gridColor":"#c4c4c4","gridDash":[3,3],"gridWidth":2,"gridOpacity":{"condition":{"test":"abs(datum.value)==0.5","value":1},"value":0},"title":"Cₚ","titleFont":"DejaVu Sans","titleFontSize":40,"titlePadding":34}},"color":{"field":"p","type":"nominal","scale":{"range":["#1a1a1a"]},"legend":{"orient":"none","legendX":1885,"legendY":26,"symbolSize":676,"symbolOffset":-8,"labelFontSize":42,"padding":10,"labelOffset":82}}}},
{"width":2005,"height":120,"data":{"name":"b"},"transform":[{"filter":"datum.p==='P4'"}],"mark":{"type":"line","interpolate":"monotone","strokeWidth":3},"encoding":{"x":{"field":"t","type":"quantitative","scale":{"domain":[1,1.215],"nice":false,"zero":false},"axis":{"values":[1,1.05,1.1,1.15,1.2],"format":".2f","labelFontSize":24,"labelPadding":16,"labelFlush":false,"domainWidth":5,"title":null}},"y":{"field":"v","type":"quantitative","scale":{"domain":[-1,1],"nice":false,"zero":false},"axis":{"values":[-1,-0.5,0,0.5,1],"labelExpr":"abs(datum.value)==0.5?'':toString(datum.value)","labelFontSize":24,"labelPadding":16,"labelOverlap":false,"domainWidth":4,"grid":true,"gridColor":"#c4c4c4","gridDash":[3,3],"gridWidth":2,"gridOpacity":{"condition":{"test":"abs(datum.value)==0.5","value":1},"value":0},"title":"Cₚ","titleFont":"DejaVu Sans","titleFontSize":40,"titlePadding":34}},"color":{"field":"p","type":"nominal","scale":{"range":["#1a1a1a"]},"legend":{"orient":"none","legendX":1883,"legendY":35,"symbolSize":676,"symbolOffset":-8,"labelFontSize":42,"padding":10,"labelOffset":82}}}},
{"width":2005,"height":120,"data":{"name":"b"},"transform":[{"filter":"datum.p==='P5'"}],"mark":{"type":"line","interpolate":"monotone","strokeWidth":3},"encoding":{"x":{"field":"t","type":"quantitative","scale":{"domain":[1,1.215],"nice":false,"zero":false},"axis":{"values":[1,1.05,1.1,1.15,1.2],"format":".2f","labelFontSize":24,"labelPadding":16,"labelFlush":false,"domainWidth":5,"title":null}},"y":{"field":"v","type":"quantitative","scale":{"domain":[-1,1],"nice":false,"zero":false},"axis":{"values":[-1,-0.5,0,0.5,1],"labelExpr":"abs(datum.value)==0.5?'':toString(datum.value)","labelFontSize":24,"labelPadding":16,"labelOverlap":false,"domainWidth":4,"grid":true,"gridColor":"#c4c4c4","gridDash":[3,3],"gridWidth":2,"gridOpacity":{"condition":{"test":"abs(datum.value)==0.5","value":1},"value":0},"title":"Cₚ","titleFont":"DejaVu Sans","titleFontSize":40,"titlePadding":34}},"color":{"field":"p","type":"nominal","scale":{"range":["#1a1a1a"]},"legend":{"orient":"none","legendX":1885,"legendY":25,"symbolSize":676,"symbolOffset":-8,"labelFontSize":42,"padding":10,"labelOffset":82}}}},
{"width":2005,"height":120,"data":{"name":"b"},"transform":[{"filter":"datum.p==='P6'"}],"mark":{"type":"line","interpolate":"monotone","strokeWidth":3},"encoding":{"x":{"field":"t","type":"quantitative","scale":{"domain":[1,1.215],"nice":false,"zero":false},"axis":{"values":[1,1.05,1.1,1.15,1.2],"format":".2f","labelFontSize":24,"labelPadding":16,"labelFlush":false,"domainWidth":5,"title":null}},"y":{"field":"v","type":"quantitative","scale":{"domain":[-1,1],"nice":false,"zero":false},"axis":{"values":[-1,-0.5,0,0.5,1],"labelExpr":"abs(datum.value)==0.5?'':toString(datum.value)","labelFontSize":24,"labelPadding":16,"labelOverlap":false,"domainWidth":4,"grid":true,"gridColor":"#c4c4c4","gridDash":[3,3],"gridWidth":2,"gridOpacity":{"condition":{"test":"abs(datum.value)==0.5","value":1},"value":0},"title":"Cₚ","titleFont":"DejaVu Sans","titleFontSize":40,"titlePadding":34}},"color":{"field":"p","type":"nominal","scale":{"range":["#1a1a1a"]},"legend":{"orient":"none","legendX":1885,"legendY":20,"symbolSize":676,"symbolOffset":-8,"labelFontSize":42,"padding":10,"labelOffset":82}}}},
{"width":2005,"height":120,"data":{"name":"b"},"transform":[{"filter":"datum.p==='P7'"}],"mark":{"type":"line","interpolate":"monotone","strokeWidth":3},"encoding":{"x":{"field":"t","type":"quantitative","scale":{"domain":[1,1.215],"nice":false,"zero":false},"axis":{"values":[1,1.05,1.1,1.15,1.2],"format":".2f","labelFontSize":24,"labelPadding":16,"labelFlush":false,"domainWidth":5,"title":null}},"y":{"field":"v","type":"quantitative","scale":{"domain":[-1,1],"nice":false,"zero":false},"axis":{"values":[-1,-0.5,0,0.5,1],"labelExpr":"abs(datum.value)==0.5?'':toString(datum.value)","labelFontSize":24,"labelPadding":16,"labelOverlap":false,"domainWidth":4,"grid":true,"gridColor":"#c4c4c4","gridDash":[3,3],"gridWidth":2,"gridOpacity":{"condition":{"test":"abs(datum.value)==0.5","value":1},"value":0},"title":"Cₚ","titleFont":"DejaVu Sans","titleFontSize":40,"titlePadding":34}},"color":{"field":"p","type":"nominal","scale":{"range":["#1a1a1a"]},"legend":{"orient":"none","legendX":1887,"legendY":25,"symbolSize":676,"symbolOffset":-8,"labelFontSize":42,"padding":10,"labelOffset":82}}}},
{"width":2005,"height":120,"data":{"name":"b"},"transform":[{"filter":"datum.p==='P8'"}],"title":{"text":"(b)","orient":"bottom","anchor":"middle","frame":"group","dx":-321,"offset":112,"font":"Liberation Serif","fontSize":46,"fontWeight":"bold"},"mark":{"type":"line","interpolate":"monotone","strokeWidth":3},"encoding":{"x":{"field":"t","type":"quantitative","scale":{"domain":[1,1.215],"nice":false,"zero":false},"axis":{"values":[1,1.05,1.1,1.15,1.2],"format":".2f","labelFontSize":24,"labelPadding":16,"labelFlush":false,"domainWidth":5,"title":"Time (s)","titleFontSize":46,"titlePadding":22}},"y":{"field":"v","type":"quantitative","scale":{"domain":[-1,1],"nice":false,"zero":false},"axis":{"values":[-1,-0.5,0,0.5,1],"labelExpr":"abs(datum.value)==0.5?'':toString(datum.value)","labelFontSize":24,"labelPadding":16,"labelOverlap":false,"domainWidth":4,"grid":true,"gridColor":"#c4c4c4","gridDash":[3,3],"gridWidth":2,"gridOpacity":{"condition":{"test":"abs(datum.value)==0.5","value":1},"value":0},"title":"Cₚ","titleFont":"DejaVu Sans","titleFontSize":40,"titlePadding":34}},"color":{"field":"p","type":"nominal","scale":{"range":["#1a1a1a"]},"legend":{"orient":"none","legendX":1894,"legendY":11,"symbolSize":676,"symbolOffset":-8,"labelFontSize":42,"padding":10,"labelOffset":82}}}}
]}],"spacing":0,
"resolve":{"scale":{"x":"independent","y":"independent","color":"independent"},"legend":{"color":"independent"}}}
],
"spacing":230,
"resolve":{"scale":{"x":"independent","y":"independent","color":"independent"},"legend":{"color":"independent"}}
}
